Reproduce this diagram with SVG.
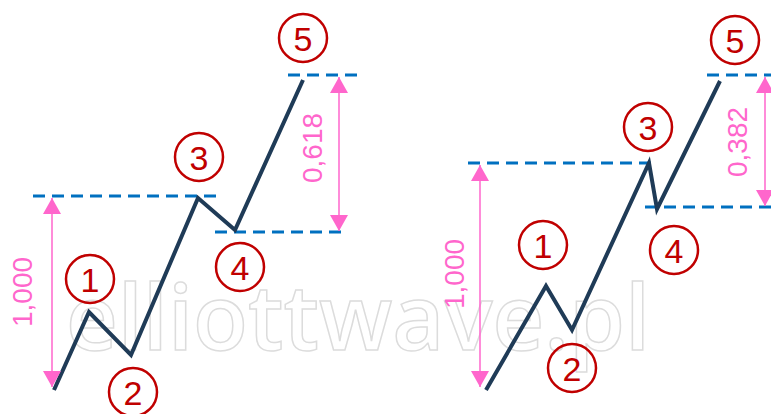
<svg xmlns="http://www.w3.org/2000/svg" width="771" height="414" viewBox="0 0 771 414">
  <style>
    .wm { font-family: "Open Sans", "Liberation Sans", sans-serif; font-size: 90px; font-weight: 600; fill: none; stroke: #dcdcdc; stroke-width: 1.5; }
    .wave { fill: none; stroke: #1F3B57; stroke-width: 4; stroke-linejoin: miter; stroke-linecap: butt; }
    .level { stroke: #0070C0; stroke-width: 3; stroke-dasharray: 12 7; fill: none; }
    .dim { stroke: #FF66CC; stroke-width: 1.5; fill: none; marker-start: url(#ah); marker-end: url(#ah); }
    .dimlbl { font-family: "Liberation Sans", Arial, sans-serif; font-size: 28px; fill: #FF66CC; text-anchor: middle; dominant-baseline: central; }
    .ring { fill: none; stroke: #C00000; stroke-width: 2.5; }
    .num { font-family: "Liberation Sans", Arial, sans-serif; font-size: 34px; fill: #C00000; text-anchor: middle; dominant-baseline: central; }
  </style>
  <defs>
    <marker id="ah" viewBox="0 0 16 18" refX="16" refY="9" markerWidth="16" markerHeight="18" markerUnits="userSpaceOnUse" orient="auto-start-reverse">
      <path d="M0,0 L16,9 L0,18 Z" fill="#FF66CC"/>
    </marker>
  </defs>
  <rect width="771" height="414" fill="#ffffff"/>
  <text class="wm" x="66" y="350" textLength="584" lengthAdjust="spacingAndGlyphs">elliottwave.pl</text>

  <g id="connectors">
    <line class="level" x1="33" y1="196" x2="220" y2="196"/>
    <line class="level" x1="215" y1="232" x2="348" y2="232"/>
    <line class="level" x1="288" y1="75" x2="362" y2="75"/>
    <line class="level" x1="468" y1="163" x2="656" y2="163"/>
    <line class="level" x1="645" y1="207" x2="771" y2="207"/>
    <line class="level" x1="707" y1="75" x2="771" y2="75"/>

    <path class="wave" d="M54,390 L89,312 L131,355 L198,198 L235,230 L303,80"/>
    <path class="wave" d="M486,390 L546,286 L572,330 L649,163 L657,209 L720,81"/>

    <line class="dim" x1="52" y1="198" x2="52" y2="387"/>
    <line class="dim" x1="339" y1="77" x2="339" y2="231"/>
    <line class="dim" x1="480" y1="165" x2="480" y2="387"/>
    <line class="dim" x1="765" y1="77" x2="765" y2="206"/>
  </g>

  <g id="dim-labels">
    <text class="dimlbl" transform="translate(22,292) rotate(-90)">1,000</text>
    <text class="dimlbl" transform="translate(312,148) rotate(-90)">0,618</text>
    <text class="dimlbl" transform="translate(454,274) rotate(-90)">1,000</text>
    <text class="dimlbl" transform="translate(737,142) rotate(-90)">0,382</text>
  </g>

  <g id="L1"><circle class="ring" cx="90" cy="279" r="24"/><text class="num" x="90" y="280">1</text></g>
  <g id="L2"><circle class="ring" cx="133" cy="392" r="24"/><text class="num" x="133" y="393">2</text></g>
  <g id="L3"><circle class="ring" cx="199" cy="157" r="24"/><text class="num" x="199" y="158">3</text></g>
  <g id="L4"><circle class="ring" cx="240" cy="267" r="24"/><text class="num" x="240" y="268">4</text></g>
  <g id="L5"><circle class="ring" cx="303" cy="38" r="24"/><text class="num" x="303" y="39">5</text></g>

  <g id="R1"><circle class="ring" cx="543" cy="245" r="24"/><text class="num" x="543" y="246">1</text></g>
  <g id="R2"><circle class="ring" cx="572" cy="368" r="24"/><text class="num" x="572" y="369">2</text></g>
  <g id="R3"><circle class="ring" cx="648" cy="127" r="24"/><text class="num" x="648" y="128">3</text></g>
  <g id="R4"><circle class="ring" cx="674" cy="250" r="24"/><text class="num" x="674" y="251">4</text></g>
  <g id="R5"><circle class="ring" cx="735" cy="40" r="24"/><text class="num" x="735" y="41">5</text></g>
</svg>
